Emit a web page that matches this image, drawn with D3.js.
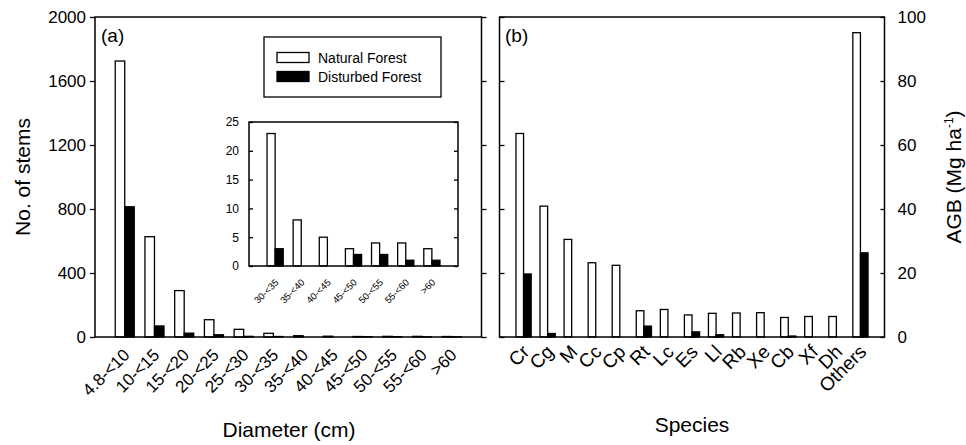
<!DOCTYPE html>
<html lang="en">
<head>
  <meta charset="UTF-8">
  <title>Stems and AGB</title>
  <script src="https://d3js.org/d3.v7.min.js"></script>
  <style>
    body { margin: 0; background: #fff; }
    text { font-family: 'Liberation Sans', Arial, sans-serif; fill: #000; }
  </style>
</head>
<body>
  <div id="canvas"></div>
  <script>
    // panel (a): number of stems by diameter class
    const diamClasses = ['4.8-<10', '10-<15', '15-<20', '20-<25', '25-<30', '30-<35',
                         '35-<40', '40-<45', '45-<50', '50-<55', '55-<60', '>60'];
    const naturalStems = [1725, 627, 290, 108, 48, 23, 8, 5, 3, 4, 4, 3];
    const disturbedStems = [814, 69, 24, 14, 4, 3, 0, 0, 2, 2, 1, 1];
    const stemTicks = [0, 400, 800, 1200, 1600, 2000];

    // inset: the large classes only
    const insetClasses = ['30-<35', '35-<40', '40-<45', '45-<50', '50-<55', '55-<60', '>60'];
    const insetNatural = [23, 8, 5, 3, 4, 4, 3];
    const insetDisturbed = [3, 0, 0, 2, 2, 1, 1];
    const insetTicks = [0, 5, 10, 15, 20, 25];

    // panel (b): AGB by species
    const species = ['Cr', 'Cg', 'M', 'Cc', 'Cp', 'Rt', 'Lc', 'Es', 'Ll', 'Rb', 'Xe', 'Cb', 'Xf', 'Dh', 'Others'];
    const naturalAGB = [63.6, 40.9, 30.5, 23.2, 22.4, 8.2, 8.6, 6.9, 7.4, 7.5, 7.6, 6.1, 6.4, 6.4, 95.1];
    const disturbedAGB = [19.7, 1.1, 0, 0, 0, 3.4, 0, 1.6, 0.7, 0, 0, 0.3, 0, 0, 26.3];
    const agbTicks = [0, 20, 40, 60, 80, 100];

    const width = 966;
    const height = 445;
    const plotTop = 17, plotBottom = 337;

    const svg = d3.select('#canvas')
      .append('svg')
      .attr('width', width)
      .attr('height', height);

    function bars(g, cats, nat, dist, x, y, frac) {
      const w = x.step() * frac;
      const base = y(0);
      cats.forEach((c, i) => {
        g.append('rect')
          .attr('x', x(c) - w)
          .attr('y', y(nat[i]))
          .attr('width', w)
          .attr('height', base - y(nat[i]))
          .attr('fill', '#fff')
          .attr('stroke', '#000')
          .attr('stroke-width', 1.3);
        g.append('rect')
          .attr('x', x(c))
          .attr('y', y(dist[i]))
          .attr('width', w)
          .attr('height', base - y(dist[i]))
          .attr('fill', '#000')
          .attr('stroke', '#000')
          .attr('stroke-width', 1.3);
      });
    }

    function xLabels(g, cats, x, baseY, dx, dy, size) {
      g.selectAll('text.xl')
        .data(cats)
        .enter()
        .append('text')
        .attr('class', 'xl')
        .attr('text-anchor', 'end')
        .attr('transform', d => 'translate(' + (x(d) + dx) + ',' + (baseY + dy) + ') rotate(-45)')
        .style('font-size', size + 'px')
        .text(d => d);
    }

    function frame(x0, x1, y0, y1, sw) {
      svg.append('rect')
        .attr('x', x0).attr('y', y0)
        .attr('width', x1 - x0).attr('height', y1 - y0)
        .attr('fill', 'none')
        .attr('stroke', '#000')
        .attr('stroke-width', sw);
    }

    function yAxis(gen, tx, ticks, size, labels, tickLen, pad) {
      const g = svg.append('g')
        .attr('transform', 'translate(' + tx + ',0)')
        .call(gen.tickValues(ticks).tickSizeOuter(0).tickSizeInner(tickLen).tickPadding(pad)
          .tickFormat(labels ? d3.format('d') : ''));
      g.select('.domain').remove();
      g.selectAll('line').attr('stroke', '#000').attr('stroke-width', 1.3);
      g.selectAll('text')
        .style('font-size', size + 'px')
        .style('font-family', "'Liberation Sans', Arial, sans-serif");
      return g;
    }

    // ---------- panel (a) ----------
    const aL = 95, aR = 481.5;
    const xA = d3.scalePoint().domain(diamClasses).range([aL, aR]).padding(1);
    const yA = d3.scaleLinear().domain([0, 2000]).range([plotBottom, plotTop]);

    const gA = svg.append('g');
    bars(gA, diamClasses, naturalStems, disturbedStems, xA, yA, 0.32);
    frame(aL, aR, plotTop, plotBottom, 1.5);
    yAxis(d3.axisLeft(yA), aL, stemTicks, 17, true, 5, 4);
    yAxis(d3.axisLeft(yA), aR, stemTicks, 17, false, -5, 0);
    xLabels(gA, diamClasses, xA, plotBottom, 6, 19, 17);

    svg.append('text').attr('x', 101).attr('y', 42)
      .style('font-size', '19px').text('(a)');

    svg.append('text')
      .attr('text-anchor', 'middle')
      .attr('transform', 'translate(30,' + ((plotTop + plotBottom) / 2) + ') rotate(-90)')
      .style('font-size', '21px')
      .text('No. of stems');
    svg.append('text')
      .attr('text-anchor', 'middle')
      .attr('x', 289).attr('y', 437)
      .style('font-size', '21px')
      .text('Diameter (cm)');

    // legend
    frame(264, 441, 37, 97, 1.3);
    svg.append('rect').attr('x', 277).attr('y', 52.5).attr('width', 32).attr('height', 10)
      .attr('fill', '#fff').attr('stroke', '#000').attr('stroke-width', 1.3);
    svg.append('rect').attr('x', 277).attr('y', 71.5).attr('width', 32).attr('height', 10)
      .attr('fill', '#000').attr('stroke', '#000').attr('stroke-width', 1.3);
    svg.append('text').attr('x', 318).attr('y', 62.5)
      .style('font-size', '14px').text('Natural Forest');
    svg.append('text').attr('x', 318).attr('y', 81.5)
      .style('font-size', '14px').text('Disturbed Forest');

    // inset
    const iL = 249, iR = 458, iT = 122, iB = 266;
    const xI = d3.scalePoint().domain(insetClasses).range([iL, iR]).padding(1);
    const yI = d3.scaleLinear().domain([0, 25]).range([iB, iT]);
    const gI = svg.append('g');
    bars(gI, insetClasses, insetNatural, insetDisturbed, xI, yI, 0.31);
    frame(iL, iR, iT, iB, 1.5);
    yAxis(d3.axisLeft(yI), iL, insetTicks, 12, true, -4, 10);
    yAxis(d3.axisLeft(yI), iR, insetTicks, 12, false, 4, 0);
    xLabels(gI, insetClasses, xI, iB, 4, 17, 9.5);

    // ---------- panel (b) ----------
    const bL = 499.5, bR = 884.5;
    const xB = d3.scalePoint().domain(species).range([bL, bR]).padding(1);
    const yB = d3.scaleLinear().domain([0, 100]).range([plotBottom, plotTop]);

    const gB = svg.append('g');
    bars(gB, species, naturalAGB, disturbedAGB, xB, yB, 0.316);
    frame(bL, bR, plotTop, plotBottom, 1.5);
    yAxis(d3.axisLeft(yB), bL, agbTicks, 17, false, -5, 0);
    yAxis(d3.axisRight(yB), bR, agbTicks, 17, true, -4, 13);
    xLabels(gB, species, xB, plotBottom, 7, 16, 19);

    svg.append('text').attr('x', 505).attr('y', 42)
      .style('font-size', '19px').text('(b)');

    const agb = svg.append('text')
      .attr('text-anchor', 'middle')
      .attr('transform', 'translate(961,' + ((plotTop + plotBottom) / 2) + ') rotate(-90)')
      .style('font-size', '21px');
    agb.append('tspan').text('AGB (Mg ha');
    agb.append('tspan').attr('dy', -8).style('font-size', '12px').text('-1');
    agb.append('tspan').attr('dy', 8).text(')');

    svg.append('text')
      .attr('text-anchor', 'middle')
      .attr('x', 692).attr('y', 432)
      .style('font-size', '21px')
      .text('Species');
  </script>
</body>
</html>
